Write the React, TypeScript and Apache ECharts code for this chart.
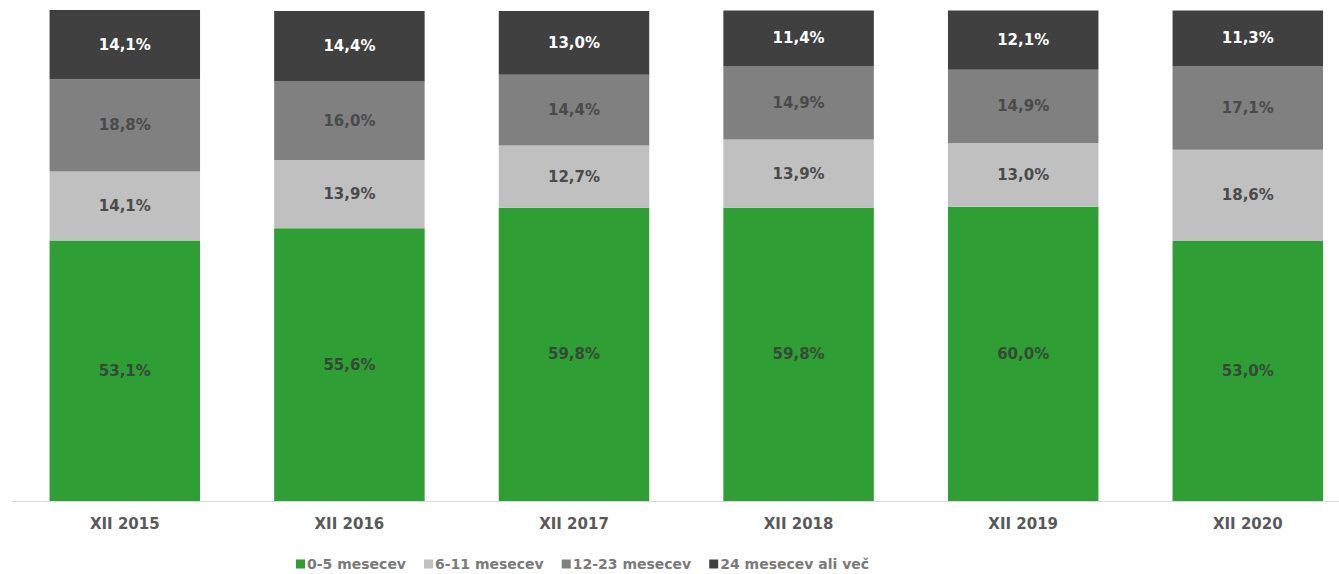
import React, { useEffect, useRef } from "react";
import * as echarts from "echarts";

const categories = ["XII 2015", "XII 2016", "XII 2017", "XII 2018", "XII 2019", "XII 2020"];
const seriesNames = ["0-5 mesecev", "6-11 mesecev", "12-23 mesecev", "24 mesecev ali več"];
const months0to5 = [53.1, 55.6, 59.8, 59.8, 60.0, 53.0];
const months6to11 = [14.1, 13.9, 12.7, 13.9, 13.0, 18.6];
const months12to23 = [18.8, 16.0, 14.4, 14.9, 14.9, 17.1];
const months24plus = [14.1, 14.4, 13.0, 11.4, 12.1, 11.3];

const colors = ["#2f9e35", "#c0c0c0", "#808080", "#404040"];
const labelColors = ["#354a35", "#4a4a4a", "#4a4a4a", "#ffffff"];
const FONT = "'DejaVu Sans', Verdana, sans-serif";

export default function App() {
  const ref = useRef<HTMLDivElement>(null);
  useEffect(() => {
    if (!ref.current) return;
    const chart = echarts.init(ref.current, undefined, { renderer: "svg" });
    const datasets = [months0to5, months6to11, months12to23, months24plus];
    chart.setOption({
      animation: false,
      backgroundColor: "#ffffff",
      grid: { left: 12.5, top: 10, width: 1347.6, height: 491, containLabel: false },
      xAxis: {
        type: "category",
        data: categories,
        axisLine: { show: true, lineStyle: { color: "#d9d9d9", width: 1 } },
        axisTick: { show: false },
        axisLabel: {
          color: "#595959",
          fontFamily: FONT,
          fontWeight: "bold",
          fontSize: 15,
          margin: 15,
        },
      },
      yAxis: {
        type: "value",
        min: 0,
        max: (v: any) => v.max,
        show: false,
        splitLine: { show: false },
      },
      legend: {
        left: 296,
        top: 557,
        padding: 0,
        itemWidth: 9,
        itemHeight: 9,
        itemGap: 18,
        icon: "rect",
        textStyle: {
          color: "#7a7a7a",
          fontFamily: FONT,
          fontWeight: "bold",
          fontSize: 14,
          padding: [0, 0, 0, -3],
        },
        data: seriesNames,
      },
      series: datasets.map((d, i) => ({
        name: seriesNames[i],
        type: "bar",
        stack: "total",
        data: d,
        barCategoryGap: "33%",
        clip: false,
        itemStyle: { color: colors[i] },
        label: {
          show: true,
          position: "inside",
          color: labelColors[i],
          fontFamily: FONT,
          fontWeight: "bold",
          fontSize: 15,
          formatter: (p: any) => p.value.toFixed(1).replace(".", ",") + "%",
        },
      })),
    });
    return () => chart.dispose();
  }, []);
  return (
    <div style={{ position: "absolute", left: 0, top: 0, width: 1339, height: 574, overflow: "hidden", background: "#fff" }}>
      <div ref={ref} style={{ width: 1362, height: 574 }} />
    </div>
  );
}
